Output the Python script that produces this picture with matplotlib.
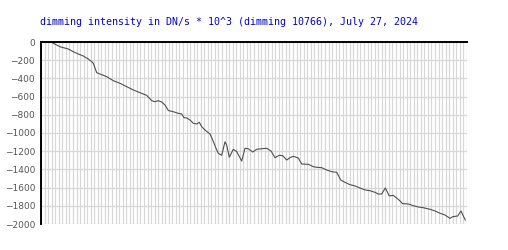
import matplotlib
matplotlib.use("Agg")
import matplotlib.pyplot as plt
import numpy as np

# time axis in grid steps (0..120), dimming intensity in DN/s * 10^3
t = [3.18, 5.35, 7.69, 9.10, 10.51, 11.92, 13.32, 14.28, 14.73, 15.69,
     16.62, 18.51, 20.37, 22.25, 24.14, 26.0, 27.89, 29.77, 31.18, 32.11,
     33.04, 34.0, 34.93, 35.86, 37.27, 38.68, 39.63, 40.28, 41.04, 41.97,
     42.90, 43.86, 44.59, 45.27, 46.20, 47.61, 48.37, 49.30, 49.94, 50.90,
     51.83, 52.31, 53.04, 54.17, 55.13, 56.54, 57.46, 58.39, 59.63, 60.76,
     62.17, 63.58, 64.79, 65.92, 67.13, 68.08, 69.21, 70.14, 71.07, 72.48,
     73.44, 75.30, 76.70, 77.66, 79.07, 80.48, 81.89, 83.30, 84.42, 85.63,
     87.04, 88.45, 89.86, 91.27, 92.68, 94.08, 95.01, 95.97, 96.99, 98.11,
     99.24, 100.65, 101.89, 103.46, 104.87, 106.28, 107.69, 109.58, 110.99, 112.39,
     113.80, 115.21, 115.97, 117.38, 118.31, 118.96, 119.52]
intensity = [-8, -52, -77, -107, -132, -154, -187, -216, -234, -337,
             -352, -381, -425, -454, -491, -527, -557, -586, -645, -656,
             -645, -659, -692, -753, -766, -784, -791, -832, -835, -857,
             -893, -901, -882, -931, -967, -1011, -1077, -1168, -1223, -1245,
             -1096, -1132, -1267, -1179, -1205, -1308, -1168, -1173, -1209, -1179,
             -1173, -1168, -1198, -1271, -1245, -1249, -1297, -1271, -1256, -1275,
             -1341, -1344, -1370, -1377, -1381, -1407, -1425, -1432, -1516, -1542,
             -1568, -1582, -1604, -1626, -1634, -1652, -1670, -1670, -1604, -1692,
             -1685, -1729, -1777, -1780, -1799, -1813, -1821, -1838, -1857, -1882,
             -1901, -1938, -1920, -1912, -1857, -1912, -1956]
yticks = list(range(0, -2001, -200))
title = "dimming intensity in DN/s * 10^3 (dimming 10766), July 27, 2024"

fig = plt.figure(figsize=(5.08, 2.5), dpi=100)
ax = fig.add_axes([41 / 508, 26 / 250, 426 / 508, 182 / 250])

ax.set_xlim(0, 120)
ax.set_ylim(-2000, 0)
ax.set_xticks(np.arange(0, 121, 1))
ax.set_yticks(yticks)
ax.set_xticklabels([])
ax.set_yticklabels([str(v).replace("-", "\u2212") for v in yticks])
ax.tick_params(length=0, labelsize=6.5, labelcolor="#555555", pad=4.3)
ax.grid(True, color="#d8d8d8", linewidth=0.9)
ax.set_axisbelow(True)

for side in ("right", "bottom"):
    ax.spines[side].set_visible(False)
for side in ("top", "left"):
    ax.spines[side].set_color("black")
    ax.spines[side].set_linewidth(1.4)

ax.plot(t, intensity, color="#505050", linewidth=0.8)

fig.text(40 / 508, 1 - 22 / 250, title, color="#0000ee", fontsize=7.2,
         family="DejaVu Sans Mono", va="center", ha="left")

fig.savefig("out.png", dpi=100)
